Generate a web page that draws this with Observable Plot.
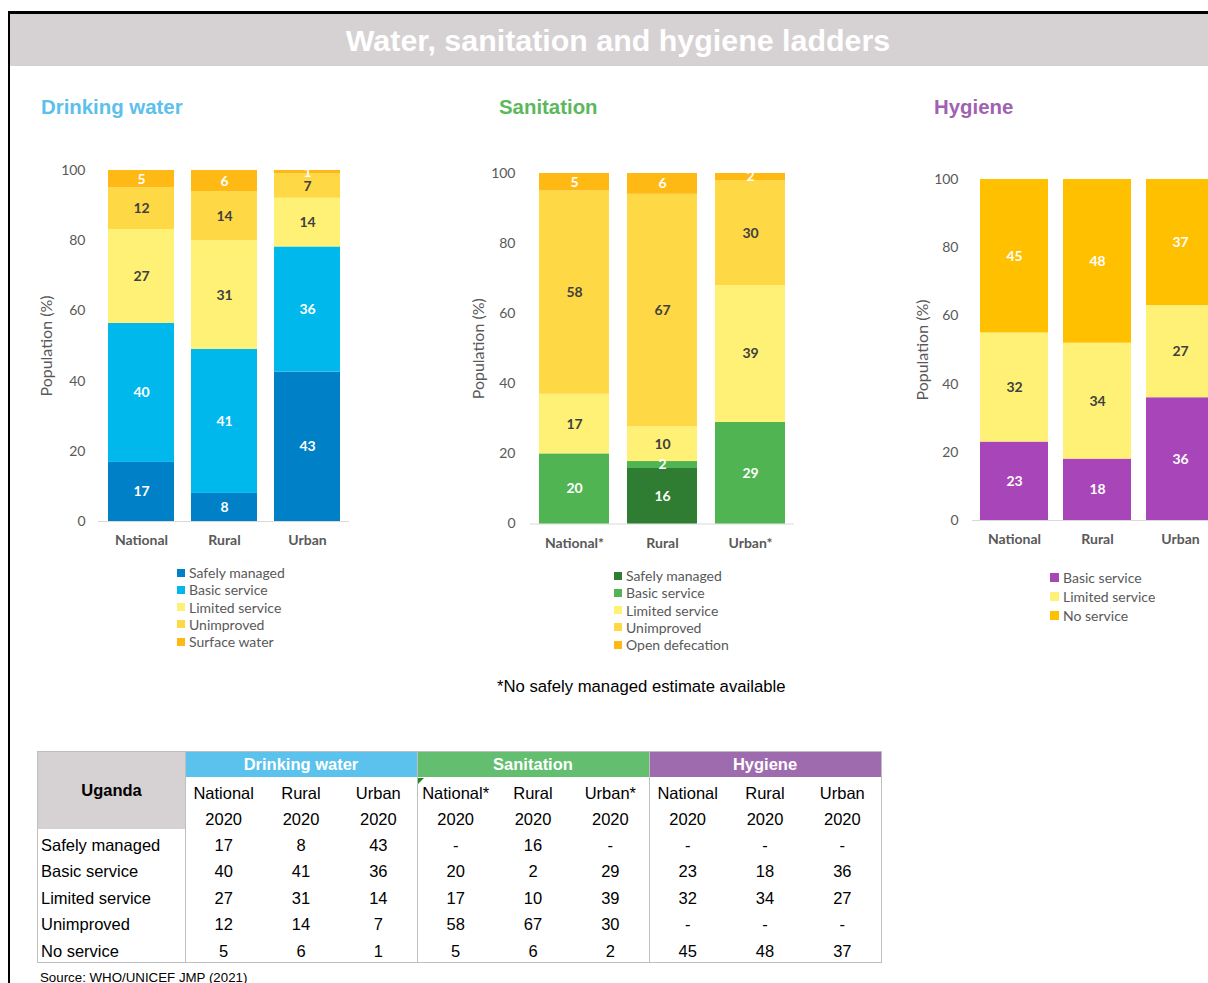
<!DOCTYPE html>
<html><head><meta charset="utf-8">
<script src="https://cdn.jsdelivr.net/npm/d3@7"></script>
<script src="https://cdn.jsdelivr.net/npm/@observablehq/plot@0.6"></script>
<style>
html,body{margin:0;padding:0;background:#fff;}
body{width:1208px;height:983px;overflow:hidden;position:relative;font-family:"Liberation Sans",Arial,sans-serif;}
.abs{position:absolute;}
#frame{left:8px;top:11px;width:1300px;height:1100px;border-top:3px solid #000;border-left:2px solid #000;box-sizing:border-box;}
#titlebar{left:10px;top:14px;width:1198px;height:52px;background:#d6d1d3;}
#title{left:28px;width:1180px;top:14px;height:52px;line-height:52px;text-align:center;color:#fff;font-weight:bold;font-size:30.4px;white-space:nowrap;}
.sect{font-weight:bold;font-size:20.4px;white-space:nowrap;line-height:24px;}
.legend{font-family:Lato,sans-serif;font-size:14px;color:#595959;white-space:nowrap;}
.legend .item{position:relative;}
.legend .sw{position:absolute;display:block;}
.cell{position:absolute;text-align:center;font-size:16.5px;color:#000;white-space:nowrap;}
svg{overflow:visible;max-width:none !important;}
</style>
</head>
<body>
<div id="frame" class="abs"></div>
<div id="titlebar" class="abs"></div>
<div id="title" class="abs">Water, sanitation and hygiene ladders</div>
<div class="abs sect" style="left:41px;top:95px;color:#5bc0eb">Drinking water</div>
<div class="abs sect" style="left:499px;top:95px;color:#5cb85c">Sanitation</div>
<div class="abs sect" style="left:934px;top:95px;color:#9e62b0">Hygiene</div>
<div id="c1" class="abs" style="left:30px;top:150px;width:330px"></div>
<div id="c2" class="abs" style="left:460px;top:150px;width:340px"></div>
<div id="c3" class="abs" style="left:900px;top:150px;width:360px"></div>
<div id="l1" class="abs legend" style="left:177px;top:564px"></div>
<div id="l2" class="abs legend" style="left:614px;top:567px"></div>
<div id="l3" class="abs legend" style="left:1050px;top:568px"></div>
<div class="abs" style="left:497px;top:677px;font-size:16.7px;color:#000;white-space:nowrap">*No safely managed estimate available</div>
<div id="table"></div>
<div class="abs" style="left:40px;top:970px;font-size:13.3px;color:#000;white-space:nowrap">Source: WHO/UNICEF JMP (2021)</div>
<script>
// ---------- data ----------
const areasWater = ["National", "Rural", "Urban"];
const areasSan = ["National*", "Rural", "Urban*"];
const areasHyg = ["National", "Rural", "Urban"];

const waterLevels = ["Safely managed", "Basic service", "Limited service", "Unimproved", "Surface water"];
const sanLevels = ["Safely managed", "Basic service", "Limited service", "Unimproved", "Open defecation"];
const hygLevels = ["Basic service", "Limited service", "No service"];

const waterColors = ["#0080c6", "#00b8ec", "#fff176", "#ffd945", "#ffb914"];
const sanColors = ["#2e7d32", "#51b453", "#fff176", "#ffd945", "#ffb914"];
const hygColors = ["#a846b9", "#fff176", "#ffc000"];

// values per level, in order National, Rural, Urban
const waterSafely = [17, 8, 43];
const waterBasic = [40, 41, 36];
const waterLimited = [27, 31, 14];
const waterUnimproved = [12, 14, 7];
const waterSurface = [5, 6, 1];

const sanSafely = [null, 16, null];
const sanBasic = [20, 2, 29];
const sanLimited = [17, 10, 39];
const sanUnimproved = [58, 67, 30];
const sanOpen = [5, 6, 2];

const hygBasic = [23, 18, 36];
const hygLimited = [32, 34, 27];
const hygNone = [45, 48, 37];

const yTicks = [0, 20, 40, 60, 80, 100];
const darkLabelLevels = ["Limited service", "Unimproved"];

const tableCountry = "Uganda";
const tableYear = "2020";
const tableGroups = ["Drinking water", "Sanitation", "Hygiene"];
const tableGroupColors = ["#5bc2ee", "#63be6f", "#9f6baf"];
const tableRowLabels = ["Safely managed", "Basic service", "Limited service", "Unimproved", "No service"];

// ---------- charts ----------
function ladder(el, o) {
  const data = [];
  o.levels.forEach((lvl, i) => o.areas.forEach((a, j) => {
    const v = o.series[i][j];
    if (v != null) data.push({area: a, level: lvl, value: v});
  }));
  const st = {offset: "normalize", order: o.levels};
  const chart = Plot.plot({
    width: o.width, height: o.height,
    marginLeft: o.ml, marginRight: o.mr, marginTop: o.mt, marginBottom: o.mb,
    style: {fontFamily: "Lato, sans-serif", fontSize: "14px", color: "#595959", background: "transparent", overflow: "visible", maxWidth: "none"},
    x: {domain: o.areas, paddingInner: o.pi, paddingOuter: o.po},
    y: {domain: [0, 1]},
    color: {domain: o.levels, range: o.colors},
    marks: [
      Plot.ruleY([0], {stroke: "#d9d9d9", strokeWidth: 1.2}),
      Plot.barY(data, Plot.stackY(st, {x: "area", y: "value", z: "level", fill: "level"})),
      Plot.text(data, Plot.stackY(st, {x: "area", y: "value", z: "level",
        text: d => darkLabelLevels.includes(d.level) ? "" : String(d.value),
        fill: "white", fontWeight: "bold", fontSize: 14})),
      Plot.text(data, Plot.stackY(st, {x: "area", y: "value", z: "level",
        text: d => darkLabelLevels.includes(d.level) ? String(d.value) : "",
        fill: "#404040", fontWeight: "bold", fontSize: 14})),
      Plot.axisX({tickSize: 0, tickPadding: 14, fontWeight: "bold", label: null, fill: "#595959"}),
      Plot.axisY({ticks: yTicks.map(t => t / 100), tickFormat: d => Math.round(d * 100), tickSize: 0, tickPadding: o.tpy, label: null, fill: "#595959"}),
      Plot.text(["Population (%)"], {frameAnchor: "left", textAnchor: "middle", lineAnchor: "middle", rotate: -90, dx: o.ldx, fill: "#595959", fontSize: 16})
    ]
  });
  document.getElementById(el).appendChild(chart);
}

ladder("c1", {areas: areasWater, levels: waterLevels, colors: waterColors,
  series: [waterSafely, waterBasic, waterLimited, waterUnimproved, waterSurface],
  width: 330, height: 410, ml: 68, mr: 11, mt: 20, mb: 39, pi: 0.21, po: 0.108, tpy: 13, ldx: -52});
ladder("c2", {areas: areasSan, levels: sanLevels, colors: sanColors,
  series: [sanSafely, sanBasic, sanLimited, sanUnimproved, sanOpen],
  width: 340, height: 410, ml: 70, mr: 6, mt: 23, mb: 36.5, pi: 0.2, po: 0.1, tpy: 15, ldx: -52});
ladder("c3", {areas: areasHyg, levels: hygLevels, colors: hygColors,
  series: [hygBasic, hygLimited, hygNone],
  width: 360, height: 410, ml: 72, mr: 38, mt: 29, mb: 40, pi: 0.185, po: 0.083, tpy: 14, ldx: -50});

// ---------- legends ----------
function legend(el, levels, colors, lh, sw) {
  const box = document.getElementById(el);
  levels.forEach((lvl, i) => {
    const d = document.createElement("div");
    d.className = "item";
    d.style.height = lh + "px"; d.style.lineHeight = lh + "px";
    d.style.paddingLeft = (sw + 4) + "px";
    d.textContent = lvl;
    const s = document.createElement("span");
    s.className = "sw";
    s.style.cssText = `left:0;top:${(lh - sw) / 2}px;width:${sw}px;height:${sw}px;background:${colors[i]}`;
    d.appendChild(s);
    box.appendChild(d);
  });
}
legend("l1", waterLevels, waterColors, 17.25, 8);
legend("l2", sanLevels, sanColors, 17.25, 8);
legend("l3", hygLevels, hygColors, 19, 9);

// ---------- table ----------
(function () {
  const T = document.getElementById("table");
  const left = 38, firstW = 147, colW = 232 / 3, right = left + firstW + 9 * colW;
  const top = 752, h1 = 25.3, h2 = 26, hd = 26.5;
  const rowTops = [top, top + h1, top + h1 + h2];
  for (let i = 0; i < 5; i++) rowTops.push(top + h1 + 2 * h2 + i * hd);
  const bottom = top + h1 + 2 * h2 + 5 * hd;
  const add = (css, txt, cls) => {
    const d = document.createElement("div");
    d.className = cls || "abs";
    d.style.cssText = css;
    if (txt != null) d.textContent = txt;
    T.appendChild(d);
    return d;
  };
  // backgrounds
  add(`left:${left}px;top:${top}px;width:${firstW}px;height:${h1 + 2 * h2}px;background:#d6d1d3`);
  tableGroups.forEach((g, k) => {
    const x = left + firstW + k * 3 * colW;
    add(`left:${x}px;top:${top}px;width:${3 * colW}px;height:${h1}px;background:${tableGroupColors[k]}`);
    add(`left:${x}px;top:${top}px;width:${3 * colW}px;height:${h1}px;line-height:${h1}px;color:#fff;font-weight:bold;`, g, "cell");
  });
  // borders
  add(`left:${left - 1}px;top:${top - 1}px;width:${right - left}px;height:${bottom - top}px;border:1.5px solid #bfbfbf`);
  [0, 1, 2].forEach(k => {
    const x = left + firstW + k * 3 * colW;
    add(`left:${x - 0.5}px;top:${top}px;width:1.5px;height:${bottom - top}px;background:#bfbfbf`);
  });
  // comment marker
  add(`left:${left + firstW + 3 * colW + 1}px;top:${top + h1 + 1}px;width:0;height:0;border-top:6px solid #1a8a1a;border-right:6px solid transparent`);
  // country
  add(`left:${left}px;top:${top + 14}px;width:${firstW}px;height:${h1 + 2 * h2 - 14}px;line-height:${h1 + 2 * h2 - 28}px;font-weight:bold;`, tableCountry, "cell");
  // sub headers
  const subs = [areasWater, areasSan, areasHyg].flat();
  subs.forEach((s, c) => {
    const x = left + firstW + c * colW;
    add(`left:${x}px;top:${rowTops[1] + 3}px;width:${colW}px;height:${h2}px;line-height:${h2}px;`, s, "cell");
    add(`left:${x}px;top:${rowTops[2] + 3}px;width:${colW}px;height:${h2}px;line-height:${h2}px;`, tableYear, "cell");
  });
  // data rows
  const cols = [
    [waterSafely, waterBasic, waterLimited, waterUnimproved, waterSurface],
    [sanSafely, sanBasic, sanLimited, sanUnimproved, sanOpen],
    [[null, null, null], hygBasic, hygLimited, [null, null, null], hygNone]
  ];
  tableRowLabels.forEach((lab, r) => {
    const y = rowTops[3 + r] + 2.5;
    add(`left:${left + 3}px;top:${y}px;height:${hd}px;line-height:${hd}px;text-align:left;`, lab, "cell");
    cols.forEach((series, g) => {
      for (let j = 0; j < 3; j++) {
        const v = series[r][j];
        const x = left + firstW + (g * 3 + j) * colW;
        add(`left:${x}px;top:${y}px;width:${colW}px;height:${hd}px;line-height:${hd}px;`, v == null ? "-" : String(v), "cell");
      }
    });
  });
})();
</script>
</body></html>
